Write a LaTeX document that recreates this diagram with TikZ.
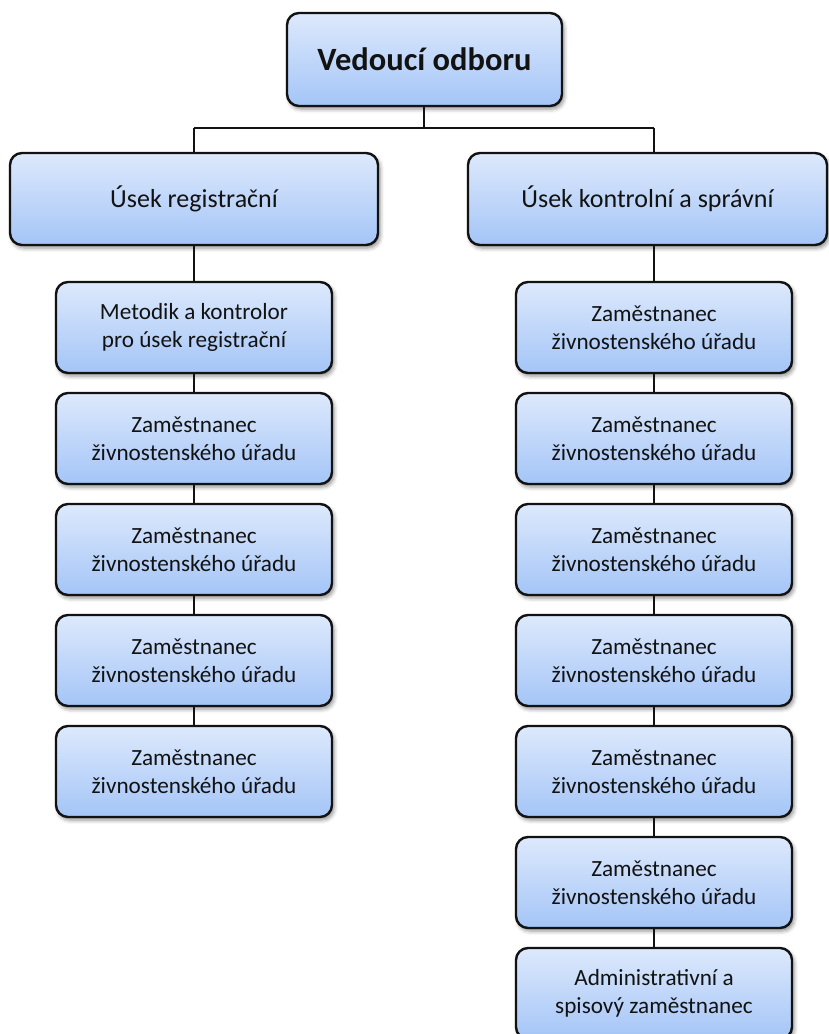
\documentclass[tikz,border=0pt]{standalone}
\usepackage{fontspec}
\setmainfont{Carlito}
\usetikzlibrary{shadows.blur}

\definecolor{boxtop}{RGB}{221,233,252}
\definecolor{boxbot}{RGB}{164,197,247}
\definecolor{ink}{RGB}{18,18,18}

\tikzset{
  orgbox/.style={draw=ink, line width=2.4pt, rounded corners=12pt,
    top color=boxtop, bottom color=boxbot, inner sep=0pt, align=center,
    text=ink,
    blur shadow={shadow xshift=2pt, shadow yshift=-3pt,
      shadow blur radius=4pt, shadow opacity=45}},
  headbox/.style={orgbox, minimum width=275pt, minimum height=93pt,
    font=\fontsize{32.5}{38}\selectfont\bfseries},
  secbox/.style={orgbox, minimum height=92pt,
    font=\fontsize{26}{31}\selectfont},
  staffbox/.style={orgbox, minimum width=276pt, minimum height=91pt,
    font=\fontsize{23.2}{27.5}\selectfont},
  link/.style={draw=ink, line width=1.4pt}
}

\newcommand{\zam}{Zaměstnanec\\živnostenského úřadu}

\begin{document}
\begin{tikzpicture}[x=1pt, y=-1pt]
  \useasboundingbox (0,0) rectangle (829,1034);
  \clip (0,0) rectangle (829,1034);

  % head of the department
  \node[headbox] (head) at (424.5,59.5) {Vedoucí odboru};

  % the two sections
  \node[secbox, minimum width=368pt] (lsec) at (194,199) {Úsek registrační};
  \node[secbox, minimum width=359pt] (rsec) at (647.5,199) {Úsek kontrolní a správní};

  % registration section staff
  \node[staffbox] (l1) at (194,327.5) {Metodik a kontrolor\\pro úsek registrační};
  \node[staffbox] (l2) at (194,438.5) {\zam};
  \node[staffbox] (l3) at (194,549.5) {\zam};
  \node[staffbox] (l4) at (194,660.5) {\zam};
  \node[staffbox] (l5) at (194,771.5) {\zam};

  % control and administrative section staff
  \node[staffbox] (r1) at (654,327.5) {\zam};
  \node[staffbox] (r2) at (654,438.5) {\zam};
  \node[staffbox] (r3) at (654,549.5) {\zam};
  \node[staffbox] (r4) at (654,660.5) {\zam};
  \node[staffbox] (r5) at (654,771.5) {\zam};
  \node[staffbox] (r6) at (654,882.5) {\zam};
  \node[staffbox] (r7) at (654,993.5) {Administrativní a\\spisový zaměstnanec};

  % connectors
  \coordinate (bus) at (424,128);
  \draw[link] (head.south -| bus) -- (bus);
  \draw[link] (l1.north |- bus) -- (r1.north |- bus);
  \draw[link] (l1.north |- bus) -- (l1.north |- lsec.north);
  \draw[link] (r1.north |- bus) -- (r1.north |- rsec.north);

  \draw[link] (l1.north |- lsec.south) -- (l1.north);
  \draw[link] (l1.south) -- (l2.north);
  \draw[link] (l2.south) -- (l3.north);
  \draw[link] (l3.south) -- (l4.north);
  \draw[link] (l4.south) -- (l5.north);

  \draw[link] (r1.north |- rsec.south) -- (r1.north);
  \draw[link] (r1.south) -- (r2.north);
  \draw[link] (r2.south) -- (r3.north);
  \draw[link] (r3.south) -- (r4.north);
  \draw[link] (r4.south) -- (r5.north);
  \draw[link] (r5.south) -- (r6.north);
  \draw[link] (r6.south) -- (r7.north);
\end{tikzpicture}
\end{document}
